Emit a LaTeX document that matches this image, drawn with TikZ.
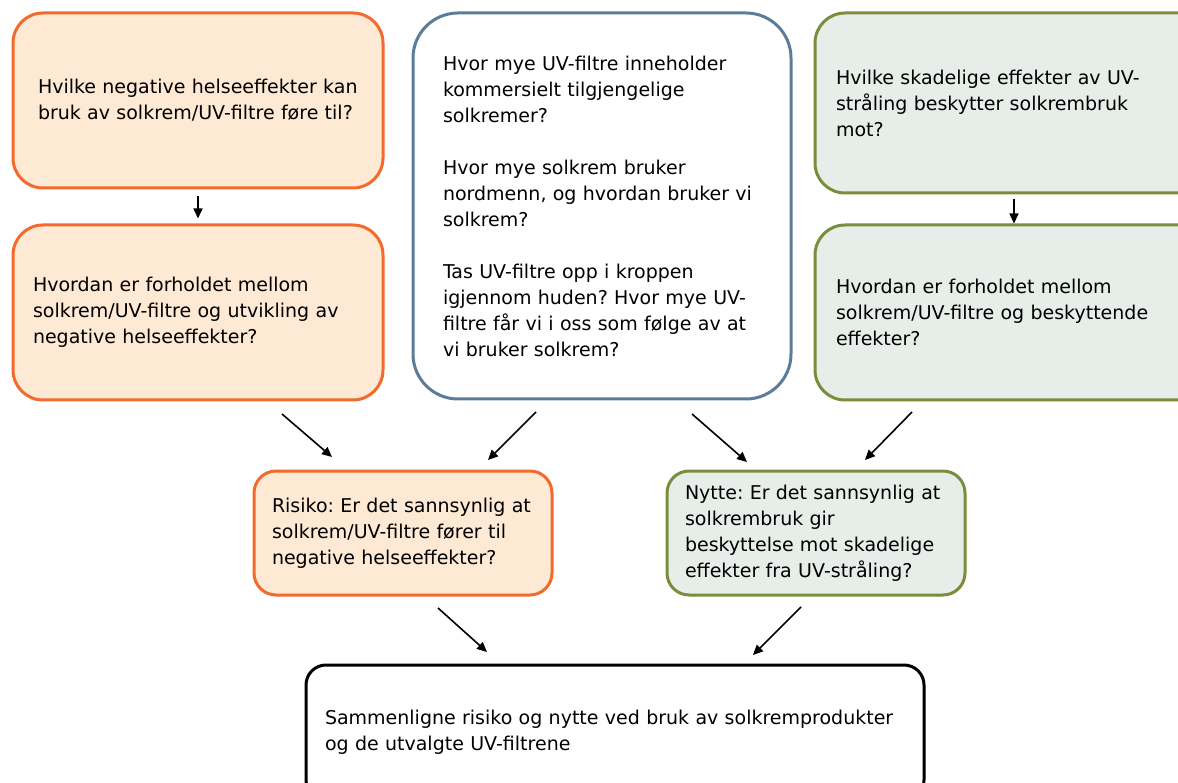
\documentclass[tikz,border=0pt]{standalone}
\usepackage{fontspec}
\setmainfont{DejaVu Sans}
\usetikzlibrary{arrows.meta}
\definecolor{riskedge}{HTML}{F26A2E}
\definecolor{riskfill}{HTML}{FDE9D4}
\definecolor{dataedge}{HTML}{5B7D9A}
\definecolor{benedge}{HTML}{7B8D3C}
\definecolor{benfill}{HTML}{E7EDE9}
\frenchspacing
\begin{document}
\begin{tikzpicture}[x=1pt,y=-1pt,
  box/.style={rectangle, rounded corners=#1, line width=3pt, inner ysep=0pt,
    align=left, font=\fontsize{19}{26}\selectfont},
  riskbox/.style={box=#1, draw=riskedge, fill=riskfill},
  databox/.style={box=#1, draw=dataedge, fill=white},
  benbox/.style={box=#1, draw=benedge, fill=benfill},
  endbox/.style={box=#1, draw=black, fill=white},
  conn/.style={-{Triangle[length=10pt,width=9pt]}, line width=1.6pt}]
\useasboundingbox (0,0) rectangle (1178,783);
\clip (0,0) rectangle (1178,783);

% left column: risk questions
\node[riskbox=30, minimum width=370pt, minimum height=175pt, text width=320pt, inner xsep=25pt]
  (a1) at (198,100.5)
  {\mbox{Hvilke negative helseeffekter kan}\\
   \mbox{bruk av solkrem/UV-filtre føre til?}};
\node[riskbox=30, minimum width=370pt, minimum height=175pt, text width=330pt, inner xsep=20pt]
  (a2) at (198,312.5)
  {\mbox{Hvordan er forholdet mellom}\\
   \mbox{solkrem/UV-filtre og utvikling av}\\
   \mbox{negative helseeffekter?}};

% middle column: exposure questions
\node[databox=45, minimum width=378pt, minimum height=386pt, text width=318pt, inner xsep=30pt]
  (b) at (602,206)
  {\mbox{Hvor mye UV-filtre inneholder}\\
   \mbox{kommersielt tilgjengelige}\\
   \mbox{solkremer?}\\[26pt]
   \mbox{Hvor mye solkrem bruker}\\
   \mbox{nordmenn, og hvordan bruker vi}\\
   \mbox{solkrem?}\\[26pt]
   \mbox{Tas UV-filtre opp i kroppen}\\
   \mbox{igjennom huden? Hvor mye UV-}\\
   \mbox{filtre får vi i oss som følge av at}\\
   \mbox{vi bruker solkrem?}};

% right column: benefit questions
\node[benbox=30, minimum width=398pt, minimum height=180pt, text width=356pt, inner xsep=21pt]
  (c1) at (1014,103)
  {\mbox{Hvilke skadelige effekter av UV-}\\
   \mbox{stråling beskytter solkrembruk}\\
   \mbox{mot?}};
\node[benbox=30, minimum width=398pt, minimum height=175pt, text width=356pt, inner xsep=21pt]
  (c2) at (1014,312.5)
  {\mbox{Hvordan er forholdet mellom}\\
   \mbox{solkrem/UV-filtre og beskyttende}\\
   \mbox{effekter?}};

% assessments
\node[riskbox=22, minimum width=298pt, minimum height=124pt, text width=262pt, inner xsep=18pt]
  (risk) at (403,533)
  {\mbox{Risiko: Er det sannsynlig at}\\
   \mbox{solkrem/UV-filtre fører til}\\
   \mbox{negative helseeffekter?}};
\node[benbox=22, minimum width=298pt, minimum height=124pt, text width=262pt, inner xsep=18pt]
  (ben) at (816,533)
  {\mbox{Nytte: Er det sannsynlig at}\\
   \mbox{solkrembruk gir}\\
   \mbox{beskyttelse mot skadelige}\\
   \mbox{effekter fra UV-stråling?}};

% conclusion
\node[endbox=20, minimum width=618pt, minimum height=135pt, text width=580pt, inner xsep=19pt]
  (comp) at (615,732.5)
  {\mbox{Sammenligne risiko og nytte ved bruk av solkremprodukter}\\
   \mbox{og de utvalgte UV-filtrene}};

% arrow ends
\coordinate (a2r) at (282,414);  \coordinate (riskl) at (332,457);
\coordinate (bl) at (536,412);   \coordinate (riskr) at (488,460);
\coordinate (br) at (692,414);   \coordinate (benl) at (747,462);
\coordinate (c2l) at (912,412);  \coordinate (benr) at (865,460);
\coordinate (risko) at (438,608); \coordinate (compl) at (487,652);
\coordinate (beno) at (801,607);  \coordinate (compr) at (753,655);

\draw[conn, shorten <=7pt, shorten >=5pt] (a1.south) -- (a2.north);
\draw[conn, shorten <=5pt, shorten >=0pt] (c1.south) -- (c2.north);
\draw[conn] (a2r) -- (riskl);
\draw[conn] (bl) -- (riskr);
\draw[conn] (br) -- (benl);
\draw[conn] (c2l) -- (benr);
\draw[conn] (risko) -- (compl);
\draw[conn] (beno) -- (compr);
\end{tikzpicture}
\end{document}
